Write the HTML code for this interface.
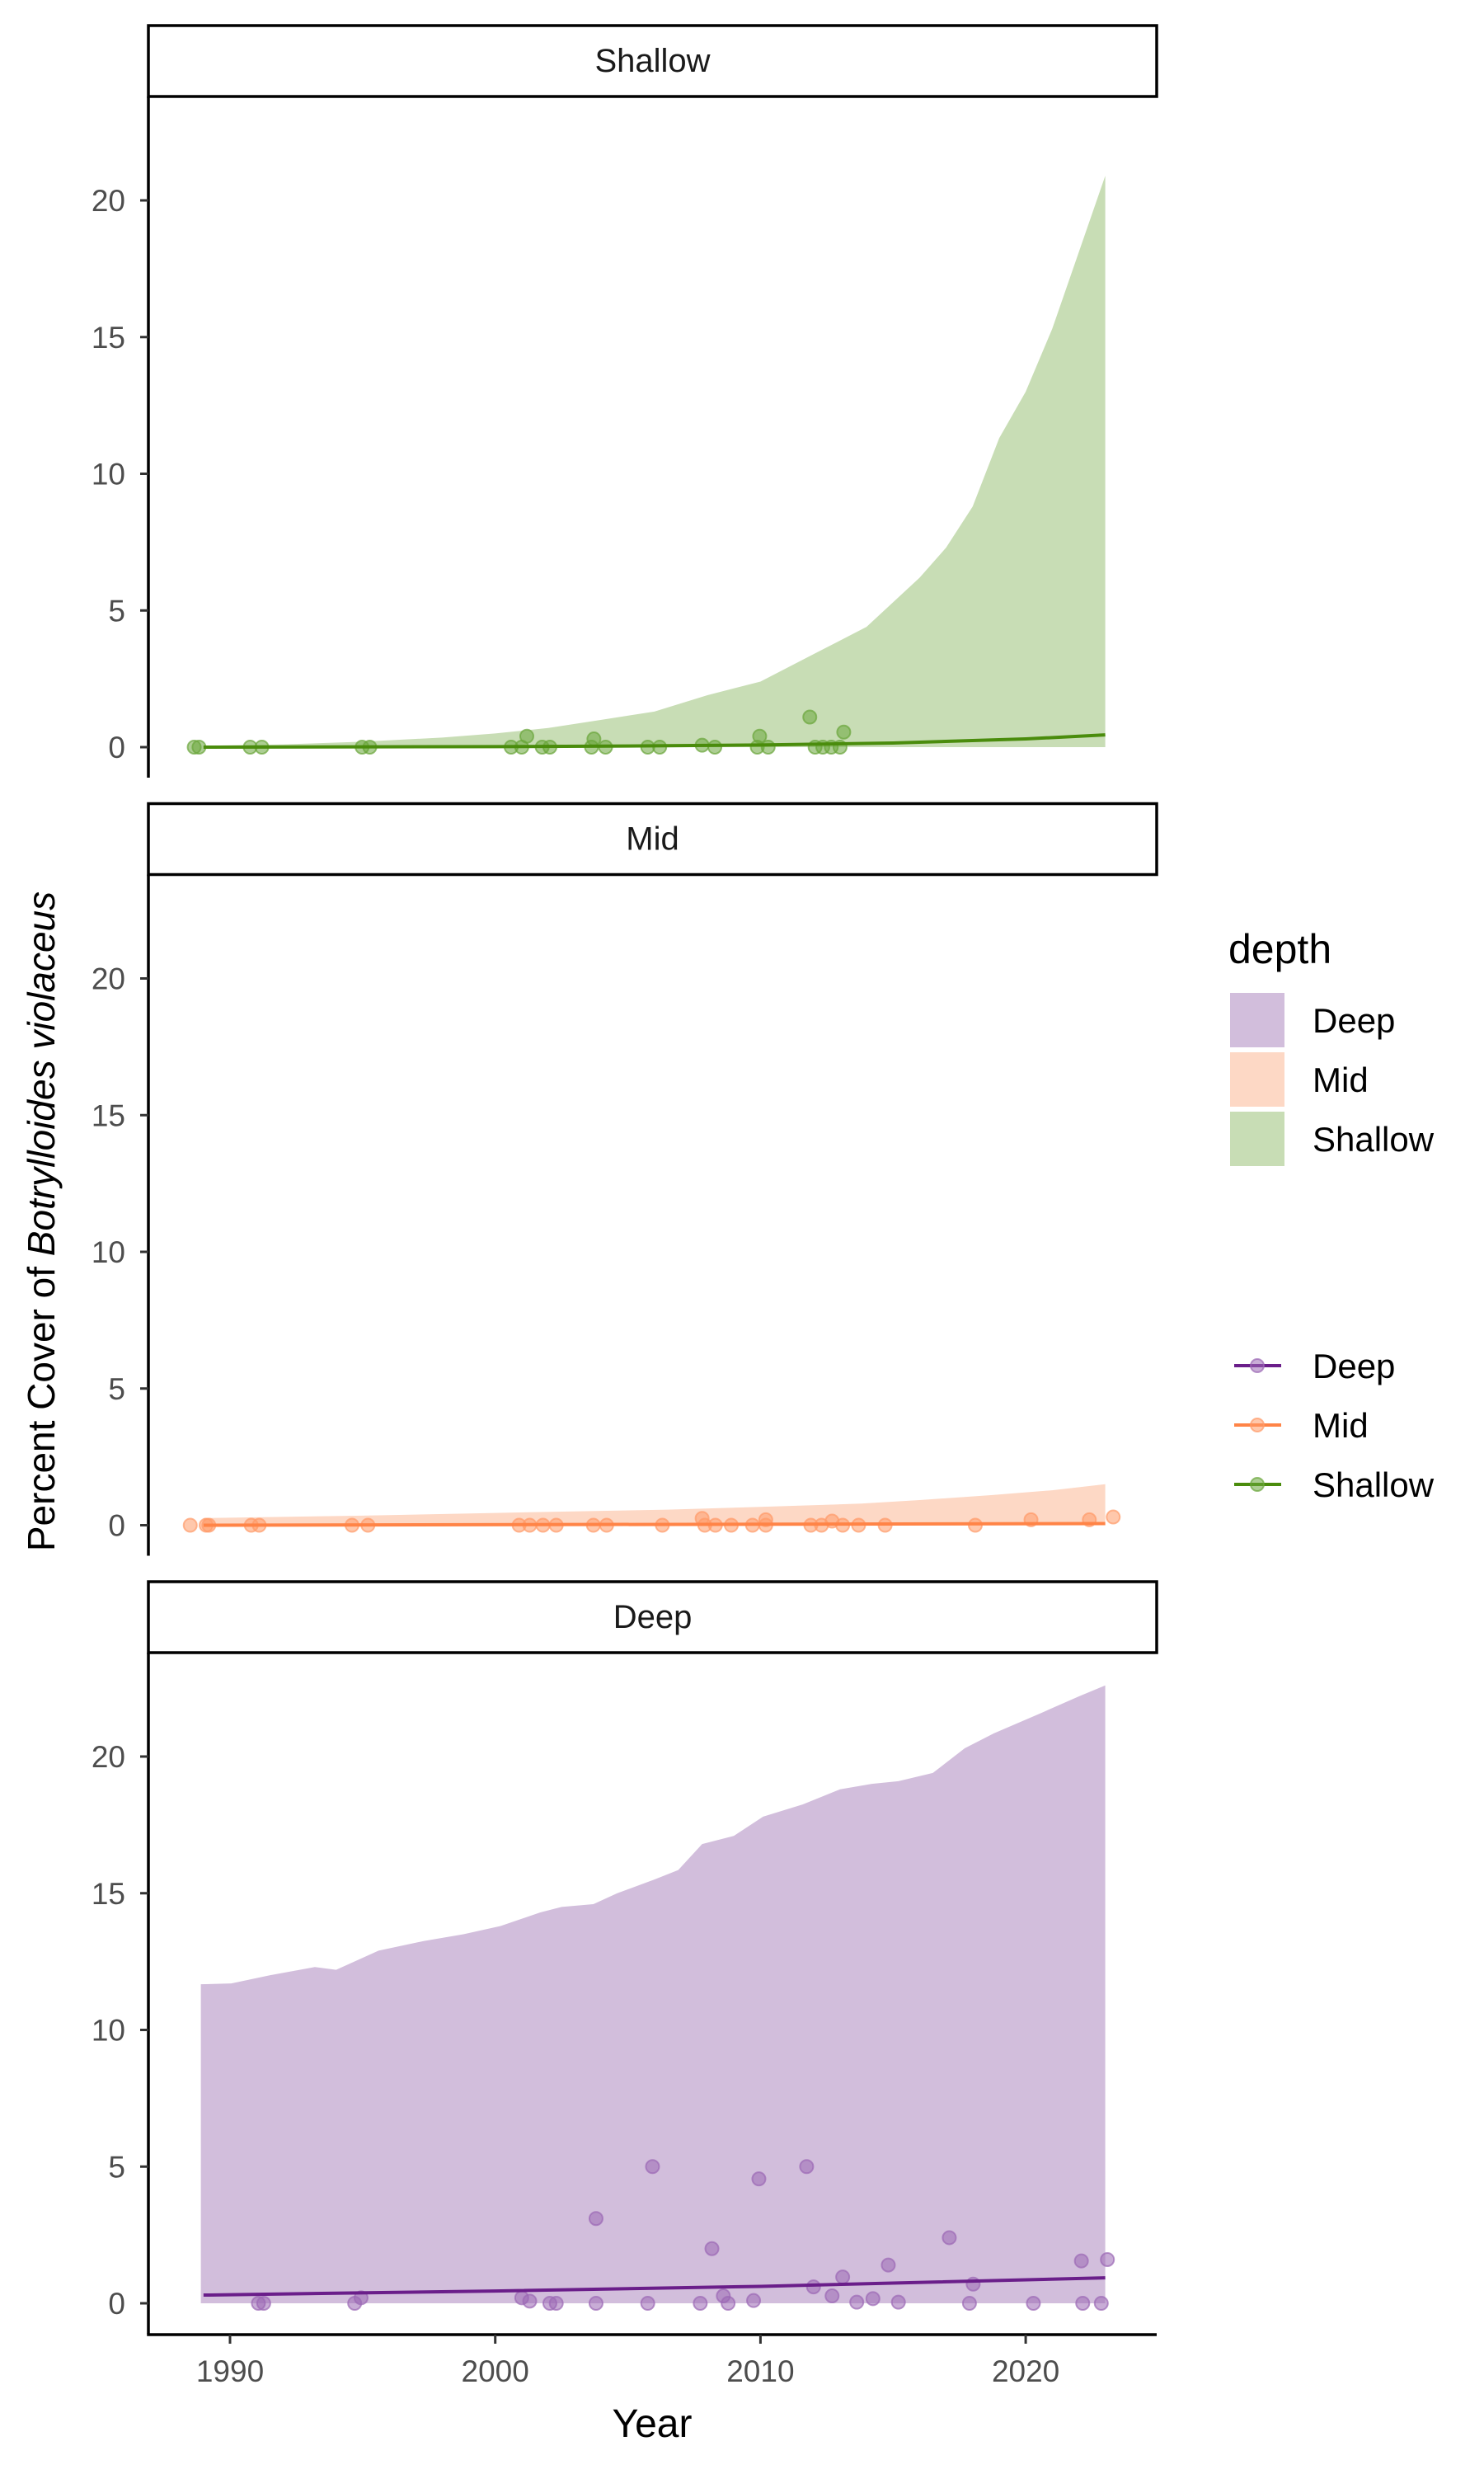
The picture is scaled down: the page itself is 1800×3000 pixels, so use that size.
<!DOCTYPE html>
<html><head><meta charset="utf-8"><style>
body{margin:0;background:#fff;}
svg{display:block;font-family:"Liberation Sans",sans-serif;}
</style></head><body>
<svg id="chart" width="1800" height="3000" viewBox="0 0 1800 3000"></svg>
<script>
const panels = ["Shallow","Mid","Deep"];
const yTicks = [0,5,10,15,20];
const xTicks = [1990,2000,2010,2020];
const shallowRibbonYears = [1989,1992,1995,1998,2000,2002,2004,2006,2008,2010,2012,2014,2016,2017,2018,2019,2020,2021,2022,2023];
const shallowRibbonUpper = [0.05,0.1,0.2,0.35,0.5,0.7,1.0,1.3,1.9,2.4,3.4,4.4,6.2,7.3,8.8,11.3,13.0,15.3,18.1,20.9];
const shallowLineYears = [1989,2000,2005,2010,2015,2020,2023];
const shallowLineValues = [0.0,0.02,0.04,0.08,0.15,0.3,0.45];
const shallowPointYears = [1988.65,1988.83,1990.76,1991.2,1994.98,1995.27,2000.6,2001.0,2001.19,2001.77,2002.06,2003.63,2003.72,2004.16,2005.75,2006.2,2007.8,2008.28,2009.88,2009.97,2010.29,2011.86,2012.06,2012.35,2012.67,2013.0,2013.14];
const shallowPointValues = [0,0,0,0,0,0,0,0,0.4,0,0,0,0.3,0,0,0,0.07,0,0,0.4,0,1.1,0,0,0,0,0.55];
const midRibbonYears = [1989,1995,2000,2006.5,2010,2013.8,2016,2018.7,2021,2023];
const midRibbonUpper = [0.26,0.35,0.45,0.57,0.67,0.79,0.92,1.1,1.28,1.5];
const midLineYears = [1989,2023];
const midLineValues = [0.0,0.06];
const midPointYears = [1988.5,1989.1,1989.2,1990.8,1991.1,1994.6,1995.2,2000.9,2001.3,2001.8,2002.3,2003.7,2004.2,2006.3,2007.8,2007.9,2008.3,2008.9,2009.7,2010.2,2010.2,2011.9,2012.3,2012.7,2013.1,2013.7,2014.7,2018.1,2020.2,2022.4,2023.3];
const midPointValues = [0,0,0,0,0,0,0,0,0,0,0,0,0,0,0.25,0,0,0,0,0,0.2,0,0,0.15,0,0,0,0,0.2,0.2,0.3];
const deepRibbonYears = [1988.9,1990.05,1991.5,1993.2,1994.0,1995.6,1997.3,1998.8,2000.2,2001.7,2002.5,2003.7,2004.6,2006.0,2006.9,2007.8,2009.0,2010.1,2011.6,2013.0,2014.2,2015.2,2016.5,2017.7,2018.8,2020.6,2022.0,2023.0];
const deepRibbonUpper = [11.67,11.7,12.0,12.3,12.2,12.9,13.25,13.5,13.8,14.3,14.5,14.6,15.0,15.5,15.85,16.8,17.1,17.8,18.25,18.8,19.0,19.1,19.4,20.3,20.85,21.6,22.2,22.6];
const deepLineYears = [1989,2000,2010,2023];
const deepLineValues = [0.3,0.45,0.62,0.93];
const deepPointYears = [1991.07,1991.27,1994.7,1994.94,2001.0,2001.3,2002.06,2002.3,2003.8,2003.8,2005.93,2005.75,2007.73,2008.17,2008.6,2008.78,2009.74,2009.94,2011.74,2012.0,2012.7,2013.1,2013.63,2014.24,2014.82,2015.2,2017.12,2017.88,2018.02,2020.29,2022.1,2022.15,2022.85,2023.08];
const deepPointValues = [0,0,0,0.2,0.2,0.08,0,0,3.1,0,5.0,0,0,2.0,0.27,0,0.1,4.55,5.0,0.6,0.27,0.96,0.04,0.17,1.4,0.04,2.4,0,0.7,0,1.55,0,0,1.6];

const series = {
  Shallow:{ry:shallowRibbonYears,ru:shallowRibbonUpper,ly:shallowLineYears,lv:shallowLineValues,py:shallowPointYears,pv:shallowPointValues,fill:"#c8ddb5",line:"#4a8c0c",pt:"#6aa53a"},
  Mid:{ry:midRibbonYears,ru:midRibbonUpper,ly:midLineYears,lv:midLineValues,py:midPointYears,pv:midPointValues,fill:"#fdd8c5",line:"#ff8447",pt:"#ff9a68"},
  Deep:{ry:deepRibbonYears,ru:deepRibbonUpper,ly:deepLineYears,lv:deepLineValues,py:deepPointYears,pv:deepPointValues,fill:"#d2bedc",line:"#6a1e8a",pt:"#9b68b5"}
};
const NS="http://www.w3.org/2000/svg";
const svg=document.getElementById('chart');
function mk(tag,attrs,parent,text){const e=document.createElementNS(NS,tag);for(const k in attrs)e.setAttribute(k,attrs[k]);if(text!==undefined)e.textContent=text;(parent||svg).appendChild(e);return e;}
const X0=180,X1=1403;
function xs(yr){return 279+(yr-1990)*32.17;}
const PANEL_OFF=943.5;
function ys(v,i){return 906+i*PANEL_OFF-33.15*v;}

panels.forEach((p,i)=>{
  const s=series[p];const o=i*PANEL_OFF;
  const g=mk('g',{});
  
  
  // strip
  const strip=mk('rect',{x:X0,y:31+o,width:X1-X0,height:86,fill:'#fff',stroke:'#000','stroke-width':3.5},g);
  
  
  const st=mk('text',{x:(X0+X1)/2,y:87+o,'text-anchor':'middle','font-size':40,fill:'#1a1a1a'},g,p);
  
  
  // ribbon
  let d='M'+xs(s.ry[0])+','+ys(0,i);
  s.ry.forEach((yr,k)=>{d+=' L'+xs(yr)+','+ys(s.ru[k],i);});
  d+=' L'+xs(s.ry[s.ry.length-1])+','+ys(0,i)+' Z';
  const rib=mk('path',{d:d,fill:s.fill},g);
  
  
  // points
  s.py.forEach((yr,k)=>{
    const c=mk('circle',{cx:xs(yr),cy:ys(s.pv[k],i),r:8,fill:s.pt,'fill-opacity':0.55,stroke:s.pt,'stroke-opacity':0.7,'stroke-width':2},g);
    
    
  });
  // line
  const pts=s.ly.map((yr,k)=>xs(yr)+','+ys(s.lv[k],i)).join(' ');
  const ln=mk('polyline',{points:pts,fill:'none',stroke:s.line,'stroke-width':4},g);
  
  
  // y axis
  const ya=mk('line',{x1:X0,y1:117+o,x2:X0,y2:943+o,stroke:'#000','stroke-width':3.5},g);
  
  
  yTicks.forEach(t=>{
    const yy=ys(t,i);
    const tk=mk('line',{x1:X0-10,y1:yy,x2:X0,y2:yy,stroke:'#333','stroke-width':3},g);
    
    
    const tl=mk('text',{x:152,y:yy+13,'text-anchor':'end','font-size':37,fill:'#4d4d4d'},g,String(t));
    
    
  });
});
// x axis on bottom panel
const xa=mk('line',{x1:X0-1.75,y1:2831,x2:X1,y2:2831,stroke:'#000','stroke-width':3.5});


xTicks.forEach(t=>{
  const tk=mk('line',{x1:xs(t),y1:2831,x2:xs(t),y2:2842,stroke:'#333','stroke-width':3});
  
  
  const tl=mk('text',{x:xs(t),y:2888,'text-anchor':'middle','font-size':37,fill:'#4d4d4d'},svg,String(t));
  
  
});
const xt=mk('text',{x:791,y:2955,'text-anchor':'middle','font-size':48,fill:'#000'},svg,'Year');


const yt=mk('text',{x:0,y:0,'text-anchor':'middle','font-size':46,fill:'#000',transform:'translate(66,1481) rotate(-90)'});


yt.appendChild(document.createTextNode('Percent Cover of '));
const it=mk('tspan',{'font-style':'italic'},yt,'Botrylloides violaceus');
// legend
const lt=mk('text',{x:1490,y:1168,'font-size':50,fill:'#000'},svg,'depth');


const legOrder=["Deep","Mid","Shallow"];
legOrder.forEach((p,k)=>{
  const s=series[p];
  const y0=1204+k*72;
  const r=mk('rect',{x:1492,y:y0,width:66,height:66,fill:s.fill});
  
  
  const t=mk('text',{x:1592,y:y0+48,'font-size':42,fill:'#000'},svg,p);
  
  
  const ly=1656+k*72;
  const l=mk('line',{x1:1497,y1:ly,x2:1554,y2:ly,stroke:s.line,'stroke-width':4});
  
  
  const c=mk('circle',{cx:1525,cy:ly,r:8,fill:s.pt,'fill-opacity':0.55,stroke:s.pt,'stroke-opacity':0.7,'stroke-width':2});
  
  
  const t2=mk('text',{x:1592,y:ly+15,'font-size':42,fill:'#000'},svg,p);
  
  
});
</script>
</body></html>
